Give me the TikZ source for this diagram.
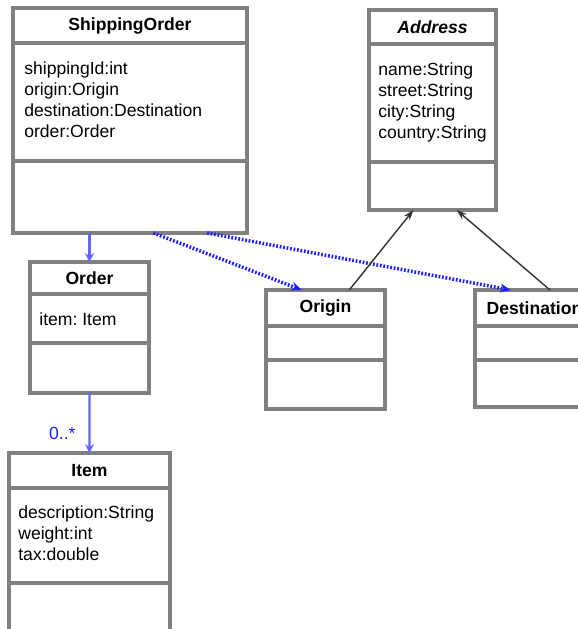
\documentclass[tikz,border=0pt]{standalone}
\usepackage{fontspec}
\setmainfont{Liberation Sans}
\usetikzlibrary{positioning,calc,arrows.meta}
\definecolor{boxgray}{RGB}{128,128,128}
\definecolor{linkblue}{RGB}{30,30,255}
\definecolor{assocblue}{RGB}{100,100,255}

\begin{document}
\frenchspacing
\begin{tikzpicture}[x=0.02cm,y=-0.02cm,
  box/.style={rectangle,draw=boxgray,line width=1.8pt,inner sep=0pt,outer sep=0pt,anchor=north west},
  title/.style={font=\fontsize{10}{12}\selectfont\bfseries},
  attr/.style={inner sep=0pt,align=left,font=\fontsize{10}{12}\selectfont},
  dep/.style={draw=linkblue,line width=2pt,dash pattern=on 1pt off 1pt,-{Stealth[length=6pt,width=5pt]}},
  assoc/.style={draw=assocblue,line width=1.2pt,-{Stealth[length=5pt,width=5pt]}},
  gen/.style={draw=black!80,line width=0.8pt,-{Stealth[length=6pt,width=4pt]}}]
\useasboundingbox (0,0) rectangle (578,629);
\clip (0,0) rectangle (578,629);

\path (13,8) node[box,title,minimum width=4.68cm,minimum height=0.70cm] (ship){ShippingOrder};
\node[box,minimum width=4.68cm,minimum height=2.36cm,below=0pt of ship] (shipa){};
\node[box,minimum width=4.68cm,minimum height=1.44cm,below=0pt of shipa] (shipm){};
\node[attr,below right=0.36cm and 0.22cm of shipa.north west] (shipt){shippingId:int\\origin:Origin\\destination:Destination\\order:Order};

\path (369,10) node[box,title,minimum width=2.54cm,minimum height=0.68cm] (addr){\itshape Address};
\node[box,minimum width=2.54cm,minimum height=2.36cm,below=0pt of addr] (addra){};
\node[box,minimum width=2.54cm,minimum height=0.96cm,below=0pt of addra] (addrm){};
\node[attr,below right=0.36cm and 0.18cm of addra.north west] (addrt){name:String\\street:String\\city:String\\country:String};

\path (30,262) node[box,title,minimum width=2.38cm,minimum height=0.64cm] (ord){Order};
\node[box,minimum width=2.38cm,minimum height=0.98cm,below=0pt of ord] (orda){};
\node[box,minimum width=2.38cm,minimum height=1.00cm,below=0pt of orda] (ordm){};
\node[attr,below right=0.36cm and 0.18cm of orda.north west] (ordt){item: Item};

\path (266,290) node[box,title,minimum width=2.38cm,minimum height=0.72cm] (orig){Origin};
\node[box,minimum width=2.38cm,minimum height=0.68cm,below=0pt of orig] (origa){};
\node[box,minimum width=2.38cm,minimum height=0.98cm,below=0pt of origa] (origm){};

\path (475,290) node[box,title,minimum width=2.38cm,minimum height=0.72cm] (dest){Destination};
\node[box,minimum width=2.38cm,minimum height=0.68cm,below=0pt of dest] (desta){};
\node[box,minimum width=2.38cm,minimum height=0.94cm,below=0pt of desta] (destm){};

\path (9,453) node[box,title,minimum width=3.22cm,minimum height=0.70cm] (item){Item};
\node[box,minimum width=3.22cm,minimum height=1.90cm,below=0pt of item] (itema){};
\node[box,minimum width=3.22cm,minimum height=1.60cm,below=0pt of itema] (itemm){};
\node[attr,below right=0.34cm and 0.18cm of itema.north west] (itemt){description:String\\weight:int\\tax:double};

\draw[assoc] (shipm.south -| ord.north) -- (ord.north);
\draw[assoc] (ordm.south) -- node[pos=0.68,left=4pt,text=linkblue,font=\fontsize{10}{12}\selectfont]{0..*} (item.north);

\draw[dep] ($(shipm.south west)!0.6!(shipm.south east)$) -- ($(orig.north west)!0.3!(orig.north east)$);
\draw[dep] ($(shipm.south west)!0.83!(shipm.south east)$) -- ($(dest.north west)!0.3!(dest.north east)$);

\draw[gen] ($(orig.north west)!0.7!(orig.north east)$) -- ($(addrm.south west)!0.35!(addrm.south east)$);
\draw[gen] ($(dest.north west)!0.63!(dest.north east)$) -- ($(addrm.south west)!0.69!(addrm.south east)$);
\end{tikzpicture}
\end{document}
